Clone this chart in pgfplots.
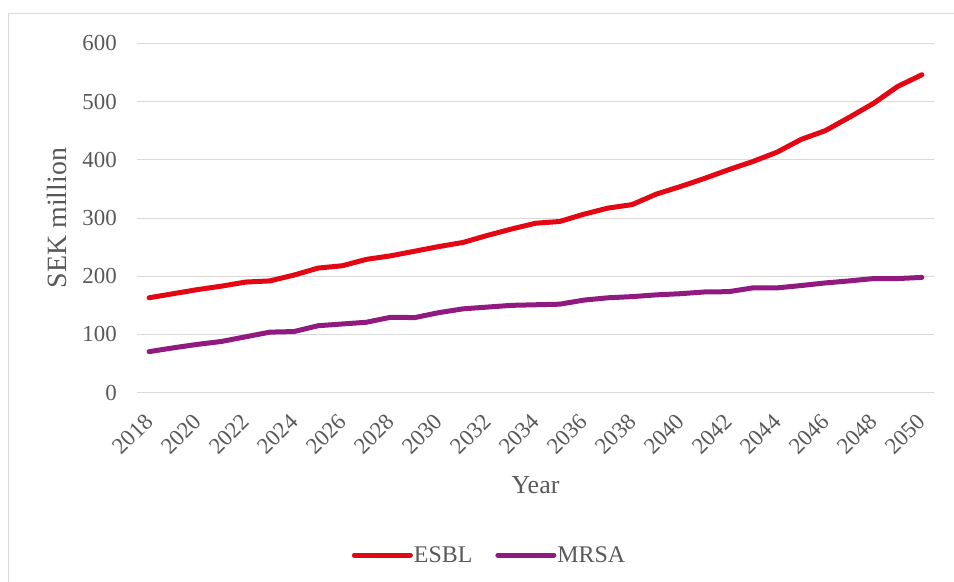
\documentclass[border=0pt]{standalone}
\usepackage{fontspec}
\setmainfont{Liberation Serif}
\usepackage{pgfplots}
\pgfplotsset{compat=1.18}
\definecolor{esbl}{HTML}{E30613}
\definecolor{mrsa}{HTML}{901A7F}
\definecolor{gridc}{HTML}{D9D9D9}
\definecolor{txt}{HTML}{595959}
\begin{document}
\begin{tikzpicture}
\path[use as bounding box] (0,0) rectangle (954bp,582bp);
\draw[gridc, line width=1bp] (8bp,0) -- (8bp,568bp) -- (954bp,568bp);
\begin{axis}[
  at={(137bp,189.3bp)}, anchor=south west,
  scale only axis, width=797bp, height=349.4bp,
  xmin=2017.5, xmax=2050.5, ymin=0, ymax=600,
  xtick={2018,2020,...,2050}, ytick={0,100,...,600},
  /pgf/number format/1000 sep={},
  /pgf/number format/assume math mode=true,
  axis line style={draw=none}, tick style={draw=none},
  ymajorgrids, grid style={gridc, line width=1bp},
  tick label style={font=\fontsize{23}{23}\selectfont, text=txt},
  yticklabel style={anchor=east, inner sep=0pt, xshift=-20bp},
  xticklabel style={xshift=0bp, yshift=-25bp, rotate=45, anchor=east, inner sep=0pt},
  xlabel={Year}, ylabel={SEK million},
  xlabel style={font=\fontsize{26}{26}\selectfont, text=txt, at={(axis description cs:0.5,-0.288)}, anchor=base},
  ylabel style={font=\fontsize{28}{28}\selectfont, text=txt, at={(axis description cs:-0.10,0.5)}, anchor=center, rotate=0},
  legend columns=2,
  legend style={at={(axis description cs:0.4417,-0.465)}, anchor=center, draw=none, fill=none,
    font=\fontsize{24}{24}\selectfont, text=txt,
    /tikz/every even column/.append style={column sep=22bp},
    nodes={inner sep=1bp}},
  legend image code/.code={\draw[#1, line width=5bp, line cap=round] (0bp,0bp) -- (56bp,0bp);},
  every axis plot/.append style={line width=5bp, line join=round, line cap=round},
]
\addplot[esbl] coordinates {
(2018,163) (2019,170) (2020,177) (2021,183) (2022,190) (2023,192) (2024,202) (2025,214)
(2026,218) (2027,229) (2028,235) (2029,243) (2030,251) (2031,258) (2032,270) (2033,281)
(2034,291) (2035,294) (2036,306.5) (2037,317) (2038,323) (2039,341) (2040,354) (2041,368)
(2042,383) (2043,397) (2044,413) (2045,435) (2046,450) (2047,473) (2048,497) (2049,526) (2050,546)};
\addlegendentry{ESBL}
\addplot[mrsa] coordinates {
(2018,70.5) (2019,77) (2020,83) (2021,88) (2022,96) (2023,104) (2024,105) (2025,115)
(2026,118) (2027,121) (2028,129.5) (2029,129) (2030,137.5) (2031,144) (2032,147) (2033,150)
(2034,151) (2035,152) (2036,159) (2037,163) (2038,165) (2039,168) (2040,170) (2041,173)
(2042,173.5) (2043,180) (2044,180) (2045,184) (2046,188.5) (2047,192) (2048,196) (2049,196) (2050,198)};
\addlegendentry{MRSA}
\end{axis}
\end{tikzpicture}
\end{document}
